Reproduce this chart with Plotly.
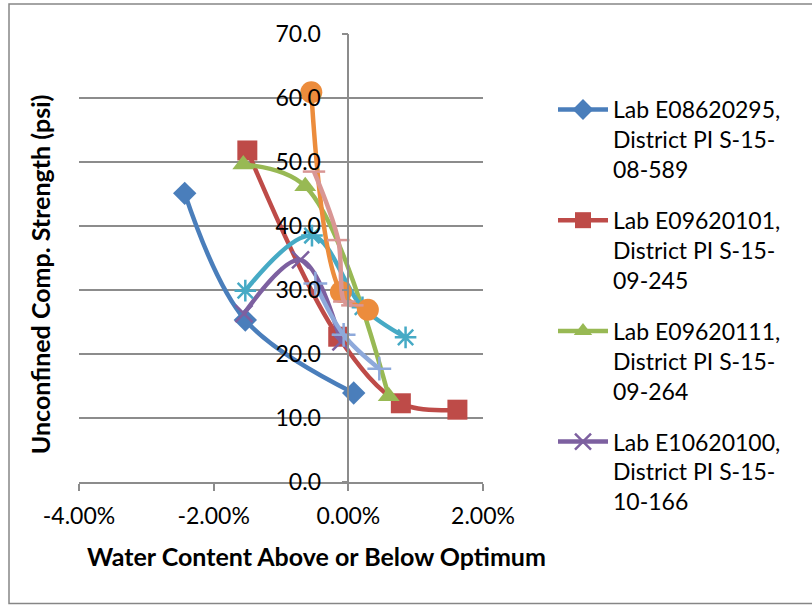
import plotly.graph_objects as go

# ---- data (water content above/below optimum, as fraction; UCS in psi) ----
names = [
    "Lab E08620295,<br>District PI S-15-<br>08-589",
    "Lab E09620101,<br>District PI S-15-<br>09-245",
    "Lab E09620111,<br>District PI S-15-<br>09-264",
    "Lab E10620100,<br>District PI S-15-<br>10-166",
    "Series 5",
    "Series 6",
    "Series 7",
    "Series 8",
]
x1 = [-0.0243, -0.0153, 0.0008]
y1 = [45.1, 25.3, 13.9]
x2 = [-0.0150, -0.0015, 0.0078, 0.0162]
y2 = [51.8, 22.7, 12.3, 11.3]
x3 = [-0.0156, -0.0064, 0.0060]
y3 = [49.6, 46.2, 13.4]
x4 = [-0.0155, -0.0071, -0.0011]
y4 = [26.3, 34.7, 21.9]
x5 = [-0.0153, -0.0054, 0.0021, 0.0085]
y5 = [29.9, 38.5, 27.3, 22.6]
x6 = [-0.0055, -0.0011, 0.0029]
y6 = [60.9, 29.7, 26.9]
x7 = [-0.0049, -0.0007, 0.0046]
y7 = [31.0, 23.0, 17.7]
x8 = [-0.0051, -0.0015, -0.0006, 0.0006]
y8 = [48.5, 37.8, 28.2, 27.6]

x_tickvals = [-0.04, -0.02, 0.0, 0.02]
x_ticktext = ["-4.00%", "-2.00%", "0.00%", "2.00%"]

xs = [x1, x2, x3, x4, x5, x6, x7, x8]
ys = [y1, y2, y3, y4, y5, y6, y7, y8]
colors = ["#4A7EBB", "#BE4B48", "#98B954", "#7D60A0", "#46AAC5", "#EC8C3C", "#8EA9DB", "#D99694"]
symbols = ["diamond", "square", "triangle-up", "x-thin-open", "asterisk-open",
           "circle", "cross-thin-open", "line-ew-open"]
sizes = [18, 20, 19, 17, 18, 22, 17, 16]

FONT = "Lato"
fig = go.Figure()
for i in range(8):
    open_sym = symbols[i].endswith("open")
    fig.add_trace(go.Scatter(
        x=xs[i], y=ys[i], name=names[i], mode="lines+markers",
        line=dict(color=colors[i], width=4.5, shape="spline", smoothing=1.0),
        marker=dict(symbol=symbols[i], size=sizes[i], color=colors[i],
                    line=dict(color=colors[i], width=2.5 if open_sym else 0)),
        showlegend=i < 4, legendgroup=f"g{i}",
    ))

L, T, W, H = 79, 34, 404, 447.7

def px_x(p):
    return (p - L) / W

def px_y(p):
    return (T + H - p) / H

fig.update_layout(
    width=812, height=605,
    margin=dict(l=L, r=812 - L - W, t=T, b=605 - T - H, pad=0),
    paper_bgcolor="white", plot_bgcolor="white",
    font=dict(family=FONT, size=23, color="black"),
    xaxis=dict(range=[-0.04, 0.02], tickvals=x_tickvals, ticktext=x_ticktext,
               showgrid=False, zeroline=False, showline=True, linecolor="#8C8C8C",
               linewidth=1.5, ticks="outside", ticklen=7, tickcolor="#8C8C8C",
               tickwidth=1.5, ticklabelstandoff=6, tickfont=dict(size=23, family=FONT)),
    yaxis=dict(range=[0, 70], dtick=10, tickformat=".1f", anchor="free",
               position=2 / 3, showgrid=True, gridcolor="#8C8C8C", gridwidth=1.5,
               zeroline=False, showline=True, linecolor="#8C8C8C", linewidth=1.5,
               ticks="outside", ticklen=6, tickcolor="#8C8C8C", tickwidth=1.5,
               ticklabelstandoff=16, tickfont=dict(size=23, family=FONT)),
    legend=dict(x=px_x(553), y=px_y(88), xanchor="left", yanchor="top",
                valign="top", traceorder="grouped", tracegroupgap=18,
                font=dict(size=23, family=FONT), itemwidth=50,
                bgcolor="rgba(0,0,0,0)"),
    annotations=[
        dict(text="<b>Unconfined Comp. Strength (psi)</b>", textangle=-90,
             xref="paper", yref="paper", x=px_x(40), y=px_y(274),
             xanchor="center", yanchor="middle",
             showarrow=False, font=dict(size=25, family=FONT)),
        dict(text="<b>Water Content Above or Below Optimum</b>",
             xref="paper", yref="paper", x=px_x(316), y=px_y(556),
             xanchor="center", yanchor="middle",
             showarrow=False, font=dict(size=25, family=FONT)),
    ],
    shapes=[dict(type="rect", xref="paper", yref="paper",
                 x0=px_x(9), x1=px_x(815), y0=px_y(603), y1=px_y(4),
                 line=dict(color="#868686", width=1.5), layer="below")],
)

fig.write_html("out.html")
